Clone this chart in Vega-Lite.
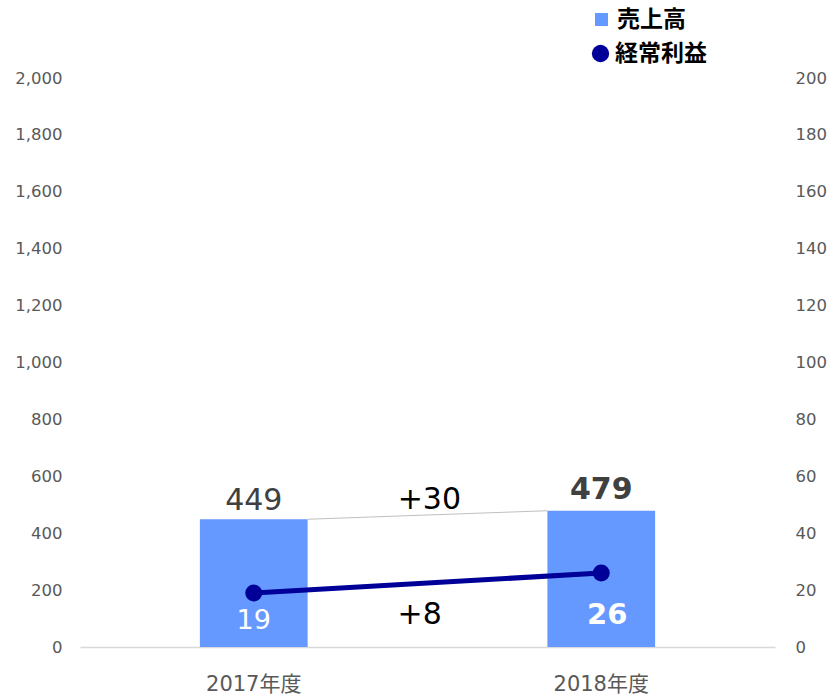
{
  "$schema": "https://vega.github.io/schema/vega-lite/v6.json",
  "width": 695,
  "height": 569,
  "autosize": {"type": "none"},
  "padding": {"left": 80, "top": 78, "right": 56, "bottom": 47},
  "background": "white",
  "config": {
    "view": {"stroke": null},
    "font": "DejaVu Sans, Noto Sans CJK JP",
    "axis": {"grid": false, "ticks": false, "labelFont": "DejaVu Sans, Noto Sans CJK JP", "labelColor": "#595959", "title": null}
  },
  "datasets": {
    "main": [
      {"year": "2017年度", "sales": 449, "profit": 19},
      {"year": "2018年度", "sales": 479, "profit": 26}
    ]
  },
  "layer": [
    {
      "layer": [
        {
          "data": {"name": "main"},
          "mark": {"type": "bar", "color": "#6699FF"},
          "encoding": {
            "x": {"field": "year", "type": "nominal", "sort": null,
                  "scale": {"paddingInner": 0.69, "paddingOuter": 0.345},
                  "axis": {"labelAngle": 0, "labelFontSize": 21, "labelPadding": 26, "domainColor": "#d9d9d9", "domainWidth": 1.5}},
            "y": {"field": "sales", "type": "quantitative",
                  "scale": {"domain": [0, 2000]},
                  "axis": {"values": [0,200,400,600,800,1000,1200,1400,1600,1800,2000], "format": ",.0f", "labelFontSize": 16.5, "labelPadding": 18, "domain": false}},
            "fill": {"datum": "売上高", "type": "nominal",
                     "scale": {"domain": ["売上高"], "range": ["#6699FF"]},
                     "legend": {"orient": "none", "legendX": 510, "legendY": -70, "title": null, "symbolType": "square", "symbolSize": 170, "labelFontSize": 23, "labelFontWeight": "bold", "labelColor": "#000000", "labelFont": "Noto Sans CJK JP", "labelOffset": 4}}
          }
        },
        {
          "data": {"values": [{"from": "2017年度", "to": "2018年度", "a": 449, "b": 479}]},
          "mark": {"type": "rule", "color": "#bfbfbf", "strokeWidth": 1},
          "encoding": {
            "x": {"field": "from", "type": "nominal", "bandPosition": 1},
            "x2": {"field": "to", "bandPosition": 0},
            "y": {"field": "a", "type": "quantitative"},
            "y2": {"field": "b"}
          }
        },
        {
          "data": {"values": [{"year": "2017年度", "sales": 449}]},
          "mark": {"type": "text", "fontSize": 30, "color": "#404040", "baseline": "bottom", "dy": -3},
          "encoding": {
            "x": {"field": "year", "type": "nominal"},
            "y": {"field": "sales", "type": "quantitative"},
            "text": {"field": "sales"}
          }
        },
        {
          "data": {"values": [{"year": "2018年度", "sales": 479}]},
          "mark": {"type": "text", "fontSize": 30, "fontWeight": "bold", "color": "#404040", "baseline": "bottom", "dy": -6},
          "encoding": {
            "x": {"field": "year", "type": "nominal"},
            "y": {"field": "sales", "type": "quantitative"},
            "text": {"field": "sales"}
          }
        },
        {
          "data": {"values": [{"year": "2017年度", "label": "+30", "pos": 517}]},
          "mark": {"type": "text", "fontSize": 30, "color": "#000000", "baseline": "middle"},
          "encoding": {
            "x": {"field": "year", "type": "nominal", "bandPosition": 2.13},
            "y": {"field": "pos", "type": "quantitative"},
            "text": {"field": "label"}
          }
        },
        {
          "data": {"values": [{"year": "2017年度", "label": "+8", "pos": 112}]},
          "mark": {"type": "text", "fontSize": 30, "color": "#000000", "baseline": "middle"},
          "encoding": {
            "x": {"field": "year", "type": "nominal", "bandPosition": 2.04},
            "y": {"field": "pos", "type": "quantitative"},
            "text": {"field": "label"}
          }
        }
      ]
    },
    {
      "layer": [
        {
          "data": {"name": "main"},
          "mark": {"type": "line", "color": "#000099", "strokeWidth": 5},
          "encoding": {
            "x": {"field": "year", "type": "nominal"},
            "y": {"field": "profit", "type": "quantitative", "scale": {"domain": [0, 200]},
                  "axis": {"orient": "right", "values": [0,20,40,60,80,100,120,140,160,180,200], "labelFontSize": 16.5, "labelPadding": 20, "domain": false}}
          }
        },
        {
          "data": {"name": "main"},
          "mark": {"type": "point", "filled": true, "size": 290, "opacity": 1, "shape": "circle"},
          "encoding": {
            "x": {"field": "year", "type": "nominal"},
            "y": {"field": "profit", "type": "quantitative"},
            "color": {"datum": "経常利益", "type": "nominal",
                      "scale": {"domain": ["経常利益"], "range": ["#000099"]},
                      "legend": {"orient": "none", "legendX": 509, "legendY": -36, "title": null, "symbolType": "circle", "symbolSize": 300, "labelFontSize": 23, "labelFontWeight": "bold", "labelColor": "#000000", "labelFont": "Noto Sans CJK JP", "labelOffset": 3}}
          }
        },
        {
          "data": {"values": [{"year": "2017年度", "profit": 19}]},
          "mark": {"type": "text", "fontSize": 27, "color": "#ffffff", "baseline": "middle", "dy": 28},
          "encoding": {
            "x": {"field": "year", "type": "nominal"},
            "y": {"field": "profit", "type": "quantitative"},
            "text": {"field": "profit"}
          }
        },
        {
          "data": {"values": [{"year": "2018年度", "profit": 26}]},
          "mark": {"type": "text", "fontSize": 29, "fontWeight": "bold", "color": "#ffffff", "baseline": "middle", "dy": 42, "dx": 6},
          "encoding": {
            "x": {"field": "year", "type": "nominal"},
            "y": {"field": "profit", "type": "quantitative"},
            "text": {"field": "profit"}
          }
        }
      ]
    }
  ],
  "resolve": {"scale": {"y": "independent", "fill": "independent", "color": "independent"}}
}
